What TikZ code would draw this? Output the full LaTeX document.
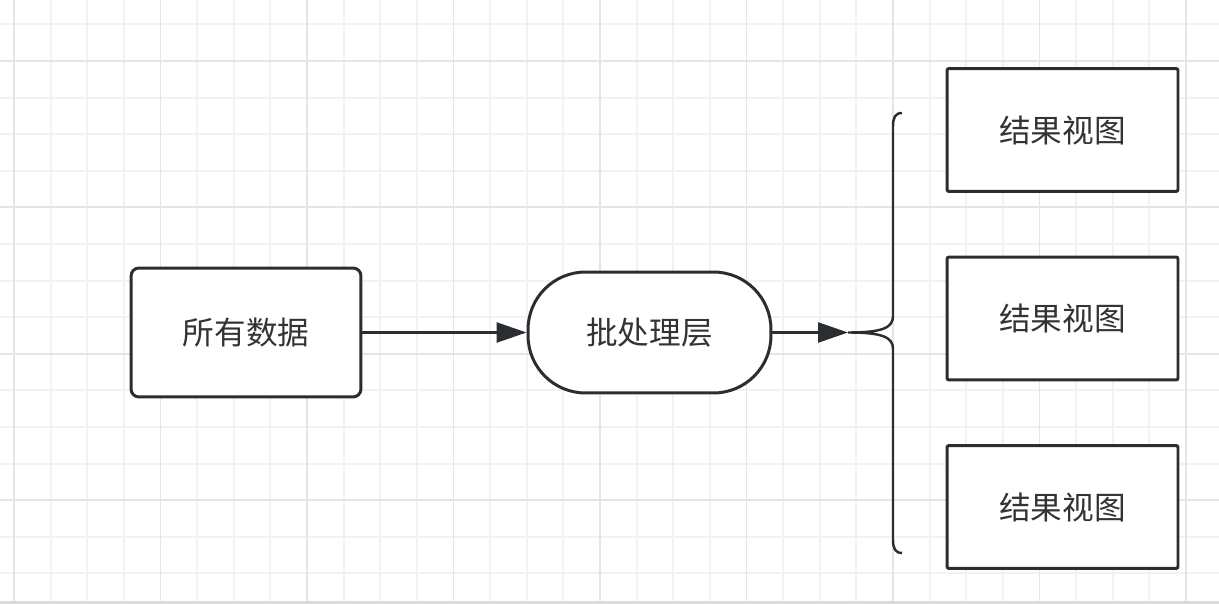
\documentclass[tikz,border=0pt]{standalone}
\usepackage{fontspec}
\newfontfamily\cjk{Noto Sans CJK SC}
\usetikzlibrary{arrows.meta}
\definecolor{inkdark}{RGB}{42,46,51}
\definecolor{txtgray}{RGB}{51,51,51}

\begin{document}
\begin{tikzpicture}[x=0.02cm,y=-0.02cm,
    gridminor/.style={black!5,line width=1.1pt},
    gridmajor/.style={black!10,line width=1.1pt},
    flowbox/.style={draw=inkdark,fill=white,line width=1.7pt,inner sep=0pt,
      font=\cjk\fontsize{18}{20}\selectfont,text=txtgray},
    flowarrow/.style={draw=inkdark,line width=1.4pt,
      -{Triangle[length=0.6cm,width=0.4cm]}}]

\useasboundingbox (0,0) rectangle (1219,604);

% ======================= background grid ==============================
\foreach \i in {0,...,32}{
  \draw[gridminor] ({14+36.625*\i},0) -- ({14+36.625*\i},601);}
\foreach \j in {0,...,15}{
  \draw[gridminor] (0,{24.4+36.6*\j}) -- (1219,{24.4+36.6*\j});}
\foreach \i in {0,4,...,32}{
  \draw[gridmajor] ({14+36.625*\i},0) -- ({14+36.625*\i},601);}
\foreach \j in {1,5,9,13}{
  \draw[gridmajor] (0,{24.4+36.6*\j}) -- (1219,{24.4+36.6*\j});}
\fill[black!14] (0,601) rectangle (1219,604);

% ======================= source and batch layer =======================
\node[flowbox,rounded corners=0.16cm,minimum width=4.6cm,minimum height=2.58cm]
  (alldata) at (246,332.5) {所有数据};
\node[flowbox,rounded corners=1.15cm,minimum width=4.86cm,minimum height=2.42cm]
  (batch) at (649.5,332.5) {批处理层};
\draw[flowarrow] (alldata.east) -- (batch.west);

% the brace that fans out to the views
\coordinate (fan) at (848,332.5);
\draw[flowarrow] (batch.east) -- (fan);
\draw[inkdark,line width=1.4pt]
  (902,113) .. controls (895,113) and (893,118) .. (893,126) -- (893,316)
  .. controls (893,328) and (882,332.5) .. (fan)
  .. controls (882,332.5) and (893,337) .. (893,349) -- (893,540)
  .. controls (893,548) and (895,553) .. (902,553);

% ======================= result views =================================
\foreach \n/\y in {viewa/130,viewb/318.5,viewc/507}{
  \node[flowbox,rounded corners=0.04cm,minimum width=4.62cm,minimum height=2.46cm]
    (\n) at (1062.5,\y) {结果视图};}

\end{tikzpicture}
\end{document}
